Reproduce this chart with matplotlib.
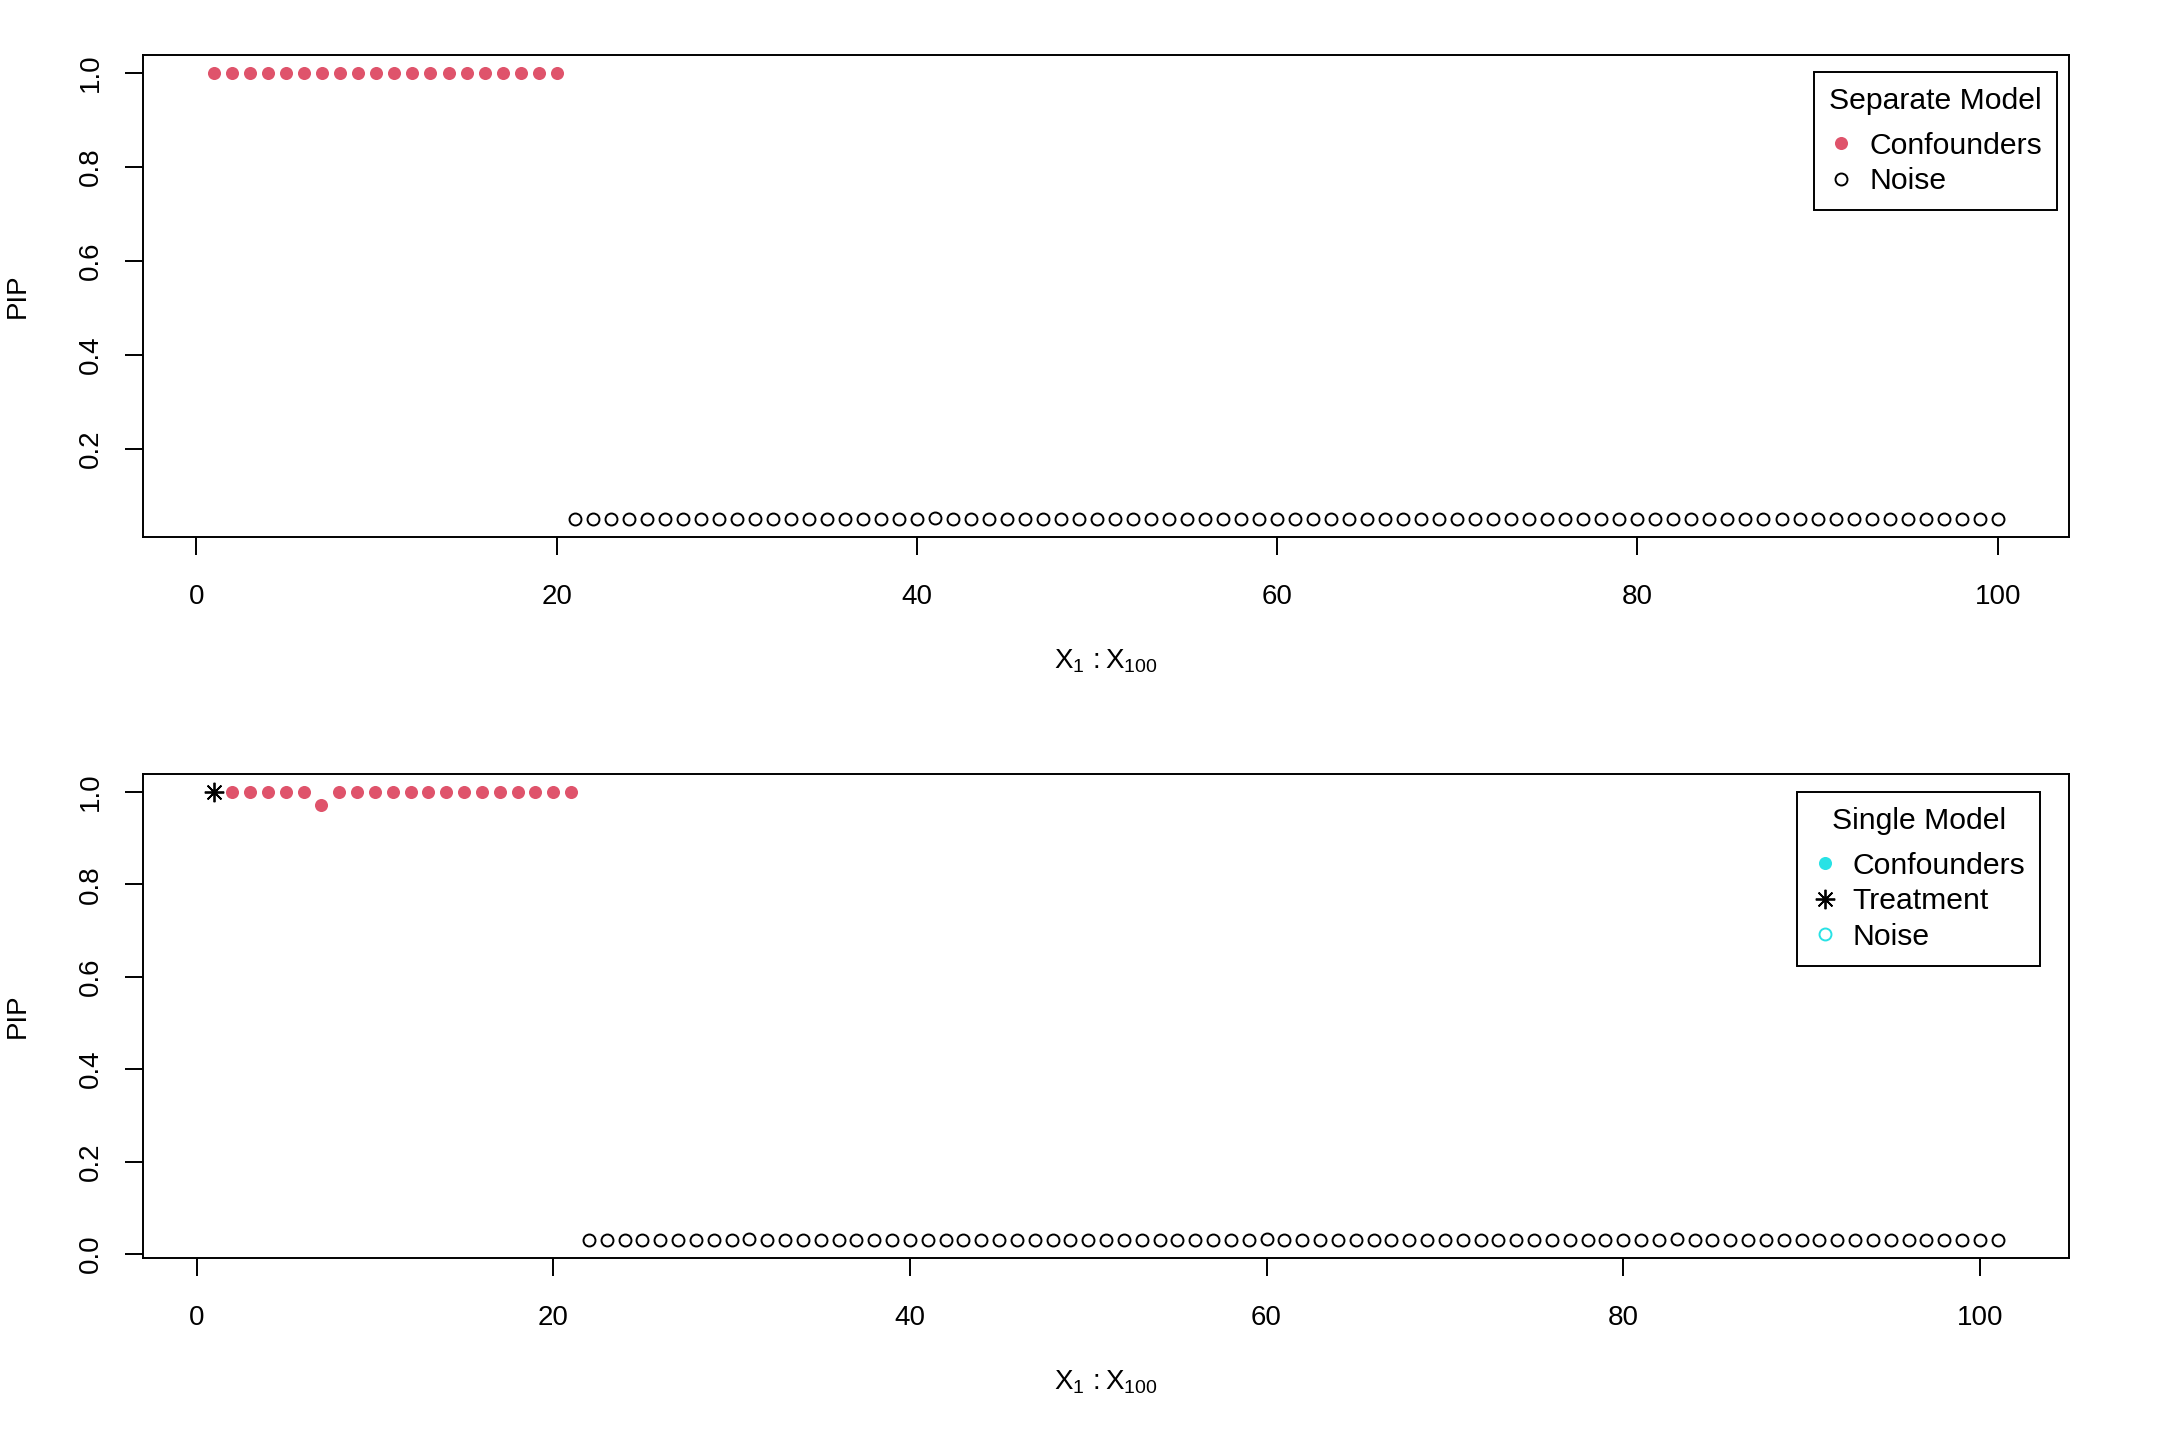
import matplotlib
matplotlib.use("Agg")
import matplotlib.pyplot as plt
from matplotlib.lines import Line2D

plt.rcParams['font.family'] = ['Liberation Sans', 'DejaVu Sans']
plt.rcParams['mathtext.fontset'] = 'custom'
plt.rcParams['mathtext.rm'] = 'Liberation Sans'
plt.rcParams['mathtext.it'] = 'Liberation Sans'

# ---------------- data ----------------
# Separate model (top)
sep_conf_x = list(range(1, 21))
sep_conf_y = [1.0, 1.0, 1.0, 1.0, 1.0, 1.0, 1.0, 1.0, 1.0, 1.0,
              1.0, 1.0, 1.0, 1.0, 1.0, 1.0, 1.0, 1.0, 1.0, 1.0]
sep_noise_x = list(range(21, 101))
sep_noise_y = [0.050, 0.050, 0.050, 0.050, 0.050, 0.051, 0.050, 0.050, 0.050, 0.050,
               0.050, 0.051, 0.050, 0.050, 0.050, 0.050, 0.050, 0.050, 0.050, 0.050,
               0.052, 0.050, 0.050, 0.050, 0.050, 0.050, 0.050, 0.051, 0.050, 0.050,
               0.050, 0.050, 0.050, 0.050, 0.050, 0.050, 0.050, 0.050, 0.050, 0.050,
               0.050, 0.050, 0.050, 0.050, 0.050, 0.050, 0.050, 0.050, 0.050, 0.050,
               0.050, 0.050, 0.050, 0.050, 0.050, 0.050, 0.050, 0.050, 0.050, 0.050,
               0.050, 0.050, 0.050, 0.050, 0.050, 0.050, 0.050, 0.050, 0.050, 0.050,
               0.050, 0.050, 0.050, 0.050, 0.050, 0.050, 0.050, 0.050, 0.050, 0.050]

# Single model (bottom)
sgl_treat_x = [1]
sgl_treat_y = [1.0]
sgl_conf_x = list(range(2, 22))
sgl_conf_y = [1.0, 1.0, 1.0, 1.0, 1.0, 0.972, 1.0, 1.0, 1.0, 1.0,
              1.0, 1.0, 1.0, 1.0, 1.0, 1.0, 1.0, 1.0, 1.0, 1.0]
sgl_noise_x = list(range(22, 102))
sgl_noise_y = [0.030, 0.030, 0.030, 0.030, 0.030, 0.030, 0.030, 0.030, 0.030, 0.032,
               0.030, 0.030, 0.030, 0.030, 0.030, 0.031, 0.030, 0.030, 0.030, 0.030,
               0.030, 0.030, 0.030, 0.030, 0.030, 0.031, 0.030, 0.030, 0.030, 0.030,
               0.030, 0.030, 0.030, 0.030, 0.030, 0.030, 0.030, 0.030, 0.032, 0.030,
               0.030, 0.030, 0.030, 0.030, 0.030, 0.030, 0.030, 0.030, 0.030, 0.030,
               0.031, 0.030, 0.030, 0.030, 0.030, 0.030, 0.030, 0.030, 0.030, 0.030,
               0.030, 0.032, 0.030, 0.030, 0.030, 0.030, 0.030, 0.030, 0.031, 0.030,
               0.030, 0.030, 0.030, 0.030, 0.030, 0.030, 0.030, 0.030, 0.030, 0.030]

top_yticks = [0.2, 0.4, 0.6, 0.8, 1.0]
bot_yticks = [0.0, 0.2, 0.4, 0.6, 0.8, 1.0]
xticks = [0, 20, 40, 60, 80, 100]

RED = '#DF536B'
CYAN = '#28E2E5'
FS = 20
LFS = 21.7
LW = 1.4

fig = plt.figure(figsize=(21.6, 14.4), dpi=100)
ax1 = fig.add_axes([143/2160, 1-537/1440, 1926/2160, 482/1440])
ax2 = fig.add_axes([143/2160, 1-1258/1440, 1926/2160, 484/1440])

fill_kw = dict(linestyle='none', marker='o', markersize=9.4, markeredgewidth=0)
open_kw = dict(linestyle='none', marker='o', markersize=8.6, markerfacecolor='none',
               markeredgecolor='black', markeredgewidth=1.4)
star_kw = dict(linestyle='none', marker=(8, 2, 0), markersize=14, color='black',
               markeredgewidth=1.3)

ax1.plot(sep_conf_x, sep_conf_y, color=RED, **fill_kw)
ax1.plot(sep_noise_x, sep_noise_y, **open_kw)

ax2.plot(sgl_treat_x, sgl_treat_y, **star_kw)
ax2.plot(sgl_conf_x, sgl_conf_y, color=RED, **fill_kw)
ax2.plot(sgl_noise_x, sgl_noise_y, **open_kw)

xlabel = r'$\mathregular{X_1\,:X_{100}}$'
for ax, yt in ((ax1, top_yticks), (ax2, bot_yticks)):
    ax.margins(x=0.04, y=0.04)
    ax.set_xticks(xticks)
    ax.set_xticklabels([str(t) for t in xticks])
    ax.set_yticks(yt)
    ax.set_yticklabels(['%.1f' % t for t in yt], rotation=90, va='center')
    ax.tick_params(direction='out', length=13, width=LW, labelsize=FS,
                   top=False, right=False)
    ax.tick_params(axis='x', pad=21)
    ax.tick_params(axis='y', pad=15)
    for s in ax.spines.values():
        s.set_linewidth(LW)
    ax.set_xlabel(xlabel, fontsize=FS)
    ax.xaxis.label.set_va('center')
    ax.xaxis.set_label_coords(0.5, -(661-537)/482)
    ax.set_ylabel('PIP', fontsize=FS)
    ax.yaxis.label.set_va('center')
    ax.yaxis.set_label_coords(-(143-18)/1926, 0.5)

leg_kw = dict(loc='upper right', borderaxespad=0, fontsize=LFS, title_fontsize=LFS,
              frameon=True, fancybox=False, framealpha=1, edgecolor='black',
              handlelength=0.8, handletextpad=0.52, labelspacing=0.25,
              borderpad=0.5, markerscale=1)


def widen_title_gap(leg):
    try:
        leg._legend_box.sep = 12.0
    except Exception:
        pass
    leg.get_frame().set_linewidth(LW)


h_top = [Line2D([], [], color=RED, **fill_kw),
         Line2D([], [], **open_kw)]
leg1 = ax1.legend(h_top, ['Confounders', 'Noise'], title='Separate Model',
                  bbox_to_anchor=(0.9938, 0.9647), **leg_kw)
widen_title_gap(leg1)

h_bot = [Line2D([], [], color=CYAN, **fill_kw),
         Line2D([], [], **star_kw),
         Line2D([], [], linestyle='none', marker='o', markersize=8.6,
                markerfacecolor='none', markeredgecolor=CYAN, markeredgewidth=1.4)]
leg2 = ax2.legend(h_bot, ['Confounders', 'Treatment', 'Noise'], title='Single Model',
                  bbox_to_anchor=(0.985, 0.963), **leg_kw)
widen_title_gap(leg2)

fig.savefig('out.png', dpi=100)
